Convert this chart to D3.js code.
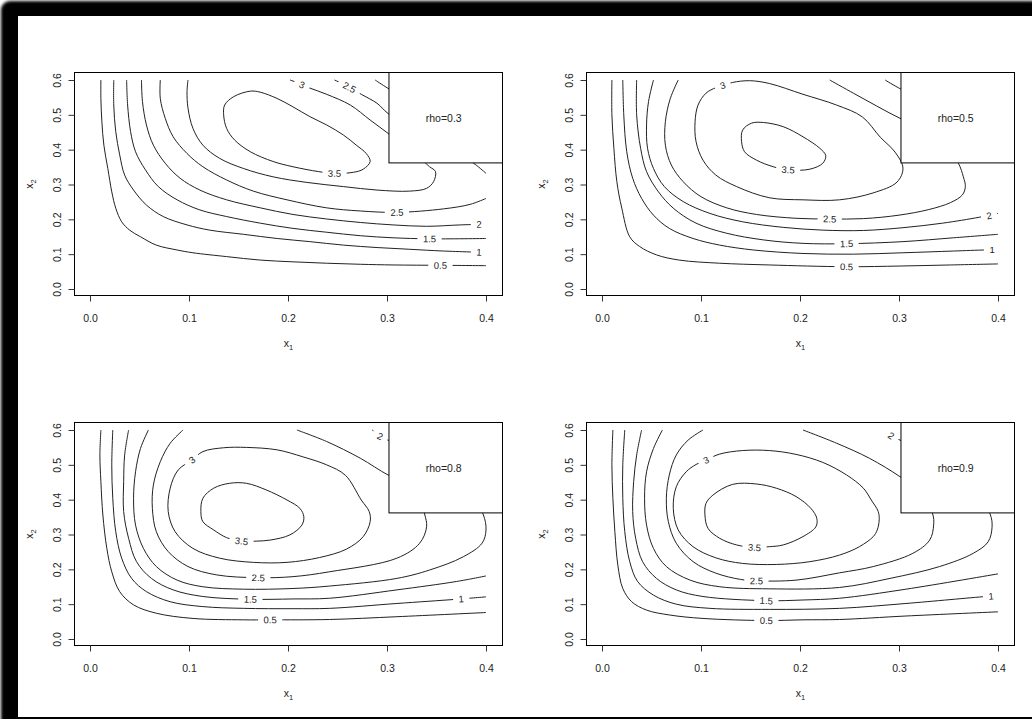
<!DOCTYPE html>
<html lang="en">
<head>
<meta charset="UTF-8">
<title>Contours of the density for four values of rho</title>
<script src="https://d3js.org/d3.v7.min.js"></script>
<style>
  html, body { margin: 0; padding: 0; background: #fff; }
  svg { display: block; font-family: "Liberation Sans", Arial, sans-serif; }
</style>
</head>
<body>
<svg id="chart" width="1032" height="719"></svg>
<script>
const rhoValues = [0.3, 0.5, 0.8, 0.9];
const xTicks = [0, 0.1, 0.2, 0.3, 0.4];
const yTicks = [0, 0.1, 0.2, 0.3, 0.4, 0.5, 0.6];
// lower left corner of the legend box, in data units
const legendCorner = [0.302, 0.362];

// contour lines (x1, x2); label = where R put the level text
const rho03 = [
  {level: 0.5, label: [0.354, 0.068], pts: [[0.011,0.600],[0.011,0.547],[0.012,0.480],[0.014,0.413],[0.018,0.346],[0.022,0.279],[0.026,0.232],[0.032,0.193],[0.040,0.169],[0.051,0.150],[0.067,0.126],[0.088,0.112],[0.104,0.104],[0.138,0.093],[0.172,0.083],[0.205,0.078],[0.239,0.074],[0.273,0.071],[0.306,0.069],[0.354,0.068],[0.400,0.067]]},
  {level: 1, label: [0.393, 0.106], pts: [[0.024,0.600],[0.024,0.528],[0.026,0.452],[0.030,0.385],[0.035,0.327],[0.044,0.284],[0.057,0.241],[0.074,0.208],[0.098,0.184],[0.121,0.169],[0.155,0.157],[0.189,0.145],[0.222,0.136],[0.256,0.126],[0.290,0.119],[0.323,0.114],[0.357,0.109],[0.400,0.105]]},
  {level: 1.5, label: [0.343, 0.144], pts: [[0.037,0.600],[0.038,0.528],[0.041,0.452],[0.046,0.394],[0.056,0.342],[0.069,0.294],[0.088,0.256],[0.111,0.227],[0.138,0.208],[0.172,0.189],[0.205,0.174],[0.239,0.163],[0.273,0.153],[0.306,0.147],[0.343,0.144],[0.400,0.145]]},
  {level: 2, label: [0.393, 0.186], pts: [[0.052,0.600],[0.053,0.538],[0.057,0.471],[0.064,0.413],[0.076,0.361],[0.091,0.318],[0.111,0.284],[0.138,0.256],[0.172,0.233],[0.205,0.214],[0.239,0.201],[0.273,0.191],[0.306,0.184],[0.340,0.180],[0.374,0.184],[0.400,0.186]]},
  {level: 2, pts: [[0.288,0.600],[0.301,0.576],[0.340,0.509],[0.400,0.433]]},
  {level: 2.5, label: [0.310, 0.220], pts: [[0.071,0.600],[0.071,0.547],[0.076,0.490],[0.084,0.437],[0.098,0.389],[0.114,0.351],[0.138,0.313],[0.165,0.281],[0.199,0.256],[0.239,0.233],[0.273,0.224],[0.310,0.220],[0.357,0.230],[0.384,0.243],[0.400,0.260]]},
  {level: 2.5, label: [0.262, 0.579], pts: [[0.247,0.600],[0.263,0.578],[0.274,0.559],[0.290,0.533],[0.301,0.504],[0.340,0.433],[0.374,0.385],[0.389,0.358],[0.400,0.332]]},
  {level: 3, label: [0.214, 0.586], pts: [[0.099,0.600],[0.098,0.567],[0.099,0.519],[0.104,0.461],[0.114,0.413],[0.131,0.375],[0.155,0.346],[0.185,0.322],[0.219,0.306],[0.256,0.294],[0.290,0.284],[0.323,0.281],[0.340,0.289],[0.347,0.308],[0.349,0.337],[0.343,0.351],[0.337,0.366],[0.320,0.404],[0.301,0.447],[0.283,0.485],[0.263,0.528],[0.239,0.559],[0.221,0.578],[0.205,0.597],[0.202,0.600]]},
  {level: 3.5, closed: true, label: [0.247, 0.332], pts: [[0.162,0.568],[0.145,0.552],[0.136,0.528],[0.135,0.500],[0.138,0.461],[0.146,0.428],[0.162,0.394],[0.185,0.366],[0.205,0.351],[0.231,0.337],[0.247,0.332],[0.266,0.335],[0.276,0.344],[0.283,0.366],[0.279,0.389],[0.269,0.413],[0.256,0.442],[0.239,0.471],[0.222,0.495],[0.205,0.523],[0.189,0.547],[0.172,0.565]]}
];

const rho05 = [
  {level: 0.5, label: [0.247, 0.064], pts: [[0.010,0.600],[0.010,0.500],[0.012,0.404],[0.015,0.308],[0.020,0.232],[0.028,0.150],[0.038,0.122],[0.055,0.098],[0.078,0.083],[0.119,0.074],[0.169,0.069],[0.247,0.064],[0.302,0.066],[0.352,0.069],[0.400,0.072]]},
  {level: 1, label: [0.394, 0.112], pts: [[0.021,0.600],[0.022,0.500],[0.025,0.394],[0.031,0.318],[0.040,0.260],[0.052,0.212],[0.068,0.174],[0.092,0.145],[0.119,0.126],[0.153,0.112],[0.203,0.102],[0.254,0.100],[0.304,0.104],[0.355,0.109],[0.387,0.112],[0.400,0.112]]},
  {level: 1.5, label: [0.247, 0.130], pts: [[0.035,0.600],[0.035,0.500],[0.039,0.404],[0.045,0.337],[0.057,0.279],[0.072,0.232],[0.095,0.189],[0.126,0.160],[0.163,0.141],[0.203,0.131],[0.247,0.130],[0.304,0.136],[0.355,0.147],[0.400,0.157]]},
  {level: 2, label: [0.391, 0.211], pts: [[0.052,0.600],[0.047,0.538],[0.045,0.471],[0.046,0.404],[0.052,0.346],[0.063,0.294],[0.082,0.251],[0.109,0.217],[0.142,0.193],[0.183,0.177],[0.223,0.169],[0.264,0.168],[0.304,0.176],[0.344,0.189],[0.381,0.206],[0.400,0.217]]},
  {level: 2, pts: [[0.286,0.600],[0.302,0.574],[0.340,0.530],[0.400,0.480]]},
  {level: 2.5, label: [0.230, 0.201], pts: [[0.077,0.600],[0.069,0.547],[0.064,0.480],[0.064,0.413],[0.070,0.356],[0.082,0.308],[0.100,0.265],[0.126,0.233],[0.156,0.214],[0.196,0.203],[0.230,0.201],[0.264,0.202],[0.300,0.212],[0.330,0.228],[0.352,0.248],[0.364,0.270],[0.367,0.294],[0.365,0.322],[0.360,0.361],[0.345,0.420],[0.325,0.460],[0.301,0.490],[0.277,0.526],[0.254,0.562],[0.230,0.600]]},
  {level: 3, closed: true, label: [0.122, 0.584], pts: [[0.122,0.584],[0.132,0.593],[0.149,0.598],[0.169,0.590],[0.203,0.559],[0.237,0.528],[0.263,0.494],[0.281,0.436],[0.296,0.393],[0.304,0.347],[0.298,0.307],[0.274,0.276],[0.240,0.256],[0.203,0.256],[0.169,0.262],[0.136,0.294],[0.115,0.327],[0.102,0.370],[0.095,0.423],[0.094,0.480],[0.097,0.528],[0.105,0.562],[0.115,0.578]]},
  {level: 3.5, closed: true, label: [0.188, 0.342], pts: [[0.142,0.456],[0.151,0.476],[0.163,0.478],[0.183,0.466],[0.203,0.437],[0.220,0.404],[0.226,0.383],[0.223,0.361],[0.210,0.344],[0.188,0.342],[0.173,0.351],[0.156,0.370],[0.144,0.394],[0.141,0.423]]}
];

const rho08 = [
  {level: 0.5, label: [0.182, 0.055], pts: [[0.011,0.600],[0.010,0.528],[0.011,0.452],[0.013,0.356],[0.017,0.260],[0.022,0.193],[0.030,0.136],[0.044,0.098],[0.067,0.074],[0.104,0.059],[0.155,0.055],[0.182,0.055],[0.242,0.056],[0.310,0.064],[0.400,0.076]]},
  {level: 1, label: [0.375, 0.115], pts: [[0.023,0.600],[0.022,0.500],[0.023,0.404],[0.026,0.308],[0.032,0.232],[0.042,0.174],[0.057,0.136],[0.081,0.107],[0.114,0.093],[0.155,0.088],[0.205,0.087],[0.242,0.088],[0.310,0.102],[0.370,0.114],[0.400,0.121]]},
  {level: 1.5, label: [0.162, 0.114], pts: [[0.039,0.600],[0.035,0.528],[0.034,0.452],[0.034,0.366],[0.039,0.289],[0.047,0.222],[0.062,0.174],[0.084,0.141],[0.114,0.122],[0.162,0.114],[0.205,0.115],[0.242,0.117],[0.310,0.141],[0.370,0.165],[0.400,0.181]]},
  {level: 2, label: [0.293, 0.582], pts: [[0.059,0.600],[0.051,0.547],[0.046,0.480],[0.044,0.404],[0.046,0.327],[0.054,0.260],[0.067,0.208],[0.088,0.169],[0.114,0.150],[0.155,0.143],[0.205,0.145],[0.242,0.152],[0.310,0.174],[0.343,0.198],[0.377,0.236],[0.396,0.275],[0.400,0.313],[0.397,0.359],[0.374,0.464],[0.340,0.528],[0.301,0.571],[0.285,0.600]]},
  {level: 2.5, label: [0.170, 0.176], pts: [[0.094,0.600],[0.081,0.562],[0.071,0.509],[0.064,0.442],[0.063,0.375],[0.067,0.308],[0.079,0.251],[0.099,0.208],[0.128,0.184],[0.170,0.176],[0.205,0.179],[0.242,0.193],[0.310,0.232],[0.333,0.275],[0.340,0.322],[0.338,0.359],[0.333,0.410],[0.320,0.448],[0.301,0.471],[0.273,0.519],[0.239,0.567],[0.209,0.600]]},
  {level: 3, closed: true, label: [0.103, 0.514], pts: [[0.103,0.514],[0.114,0.538],[0.135,0.549],[0.158,0.550],[0.189,0.543],[0.215,0.523],[0.239,0.500],[0.258,0.470],[0.274,0.399],[0.282,0.366],[0.283,0.337],[0.276,0.294],[0.259,0.258],[0.232,0.234],[0.199,0.220],[0.165,0.220],[0.131,0.232],[0.104,0.260],[0.086,0.308],[0.079,0.366],[0.081,0.433],[0.089,0.485]]},
  {level: 3.5, closed: true, label: [0.153, 0.281], pts: [[0.114,0.404],[0.125,0.433],[0.141,0.447],[0.158,0.447],[0.178,0.428],[0.199,0.399],[0.212,0.375],[0.216,0.351],[0.214,0.327],[0.202,0.299],[0.182,0.284],[0.168,0.281],[0.153,0.281],[0.138,0.291],[0.125,0.313],[0.114,0.337],[0.112,0.366]]}
];

const rho09 = [
  {level: 0.5, label: [0.166, 0.053], pts: [[0.011,0.600],[0.010,0.500],[0.011,0.404],[0.013,0.308],[0.016,0.212],[0.021,0.145],[0.030,0.107],[0.045,0.083],[0.068,0.069],[0.102,0.059],[0.166,0.053],[0.203,0.055],[0.240,0.056],[0.307,0.066],[0.400,0.078]]},
  {level: 1, label: [0.393, 0.123], pts: [[0.023,0.600],[0.021,0.500],[0.021,0.404],[0.023,0.308],[0.028,0.222],[0.036,0.165],[0.052,0.126],[0.075,0.100],[0.109,0.088],[0.169,0.085],[0.240,0.088],[0.307,0.102],[0.388,0.122],[0.400,0.124]]},
  {level: 1.5, label: [0.166, 0.110], pts: [[0.040,0.600],[0.035,0.528],[0.032,0.452],[0.031,0.366],[0.034,0.289],[0.041,0.222],[0.055,0.174],[0.075,0.141],[0.102,0.122],[0.166,0.110],[0.203,0.112],[0.240,0.117],[0.307,0.143],[0.400,0.187]]},
  {level: 2, label: [0.292, 0.584], pts: [[0.061,0.600],[0.052,0.547],[0.045,0.480],[0.043,0.404],[0.045,0.327],[0.052,0.260],[0.065,0.208],[0.089,0.169],[0.119,0.150],[0.169,0.144],[0.240,0.148],[0.291,0.174],[0.341,0.208],[0.375,0.246],[0.390,0.279],[0.394,0.321],[0.392,0.359],[0.371,0.452],[0.338,0.528],[0.301,0.571],[0.286,0.600]]},
  {level: 2.5, label: [0.156, 0.167], pts: [[0.102,0.600],[0.087,0.571],[0.075,0.528],[0.068,0.471],[0.065,0.404],[0.067,0.337],[0.075,0.275],[0.092,0.222],[0.115,0.189],[0.140,0.171],[0.156,0.167],[0.196,0.169],[0.240,0.190],[0.274,0.208],[0.314,0.246],[0.331,0.284],[0.335,0.327],[0.334,0.359],[0.321,0.423],[0.301,0.466],[0.270,0.519],[0.237,0.562],[0.203,0.600]]},
  {level: 3, closed: true, label: [0.105, 0.514], pts: [[0.105,0.514],[0.119,0.531],[0.142,0.541],[0.169,0.541],[0.196,0.530],[0.223,0.507],[0.247,0.471],[0.264,0.433],[0.272,0.399],[0.279,0.366],[0.280,0.342],[0.278,0.313],[0.274,0.294],[0.260,0.265],[0.240,0.241],[0.210,0.222],[0.176,0.214],[0.142,0.217],[0.115,0.233],[0.092,0.265],[0.077,0.313],[0.072,0.375],[0.075,0.437],[0.085,0.480],[0.095,0.501]]},
  {level: 3.5, closed: true, label: [0.154, 0.263], pts: [[0.105,0.389],[0.112,0.413],[0.132,0.444],[0.156,0.445],[0.176,0.433],[0.196,0.409],[0.211,0.375],[0.217,0.346],[0.216,0.322],[0.203,0.294],[0.183,0.270],[0.169,0.265],[0.154,0.263],[0.136,0.270],[0.119,0.289],[0.107,0.318],[0.104,0.356]]}
];

const panels = [rho03, rho05, rho08, rho09];

const svg = d3.select("#chart");

// dark window edge around the screenshot
const defs = svg.append("defs");
defs.append("filter").attr("id", "soft")
  .attr("x", "-5%").attr("y", "-5%").attr("width", "110%").attr("height", "110%")
  .append("feGaussianBlur").attr("stdDeviation", 1.6);
svg.append("rect").attr("x", 1).attr("y", 1).attr("width", 1040).attr("height", 730)
  .attr("rx", 9).attr("fill", "#000").attr("filter", "url(#soft)");
svg.append("rect").attr("x", 18).attr("y", 16).attr("width", 1014).attr("height", 701)
  .attr("fill", "#fff");

const ink = "#222";

panels.forEach((lines, i) => {
  const col = i % 2, row = Math.floor(i / 2);
  const left = 74.5 + col * 512, top = 72.5 + row * 350;
  const w = 428, h = 223;

  const x = d3.scaleLinear().domain([0, 0.4]).range([left + 15.5, left + 411.5]);
  const y = d3.scaleLinear().domain([0, 0.6]).range([top + 216.5, top + 7.5]);

  const g = svg.append("g");

  // contour lines
  lines.forEach(c => {
    const line = d3.line()
      .x(d => x(d[0])).y(d => y(d[1]))
      .curve(c.closed ? d3.curveCatmullRomClosed : d3.curveCatmullRom);
    g.append("path").attr("d", line(c.pts))
      .attr("fill", "none").attr("stroke", ink).attr("stroke-width", 1);
  });

  // level labels, turned along the line with a gap behind them
  lines.filter(c => c.label).forEach(c => {
    const px = x(c.label[0]), py = y(c.label[1]);
    let best = 0, bd = Infinity;
    c.pts.forEach((p, k) => {
      const d = (x(p[0]) - px) ** 2 + (y(p[1]) - py) ** 2;
      if (d < bd) { bd = d; best = k; }
    });
    const n = c.pts.length;
    const a = c.pts[c.closed ? (best - 1 + n) % n : Math.max(0, best - 1)];
    const b = c.pts[c.closed ? (best + 1) % n : Math.min(n - 1, best + 1)];
    let ang = Math.atan2(y(b[1]) - y(a[1]), x(b[0]) - x(a[0])) * 180 / Math.PI;
    if (ang > 90) ang -= 180;
    if (ang < -90) ang += 180;
    const lg = g.append("g").attr("transform", `translate(${px},${py}) rotate(${ang})`);
    const bg = lg.append("rect").attr("fill", "#fff");
    const t = lg.append("text")
      .attr("text-anchor", "middle").attr("dy", "0.36em")
      .attr("font-size", 9.5).attr("fill", ink)
      .text(String(c.level));
    const tw = t.node().getComputedTextLength();
    bg.attr("x", -tw / 2 - 5.5).attr("y", -4.5).attr("width", tw + 11).attr("height", 9);
  });

  // legend box
  const lx = x(legendCorner[0]), ly = y(legendCorner[1]);
  g.append("rect").attr("x", lx).attr("y", top)
    .attr("width", left + w - lx).attr("height", ly - top)
    .attr("fill", "#fff").attr("stroke", "#000").attr("stroke-width", 1);
  g.append("text")
    .attr("x", lx + (left + w - lx) / 2 - 2).attr("y", top + (ly - top) / 2 + 4)
    .attr("text-anchor", "middle").attr("font-size", 10.5).attr("fill", ink)
    .text("rho=" + rhoValues[i]);

  // plot box
  g.append("rect").attr("x", left).attr("y", top).attr("width", w).attr("height", h)
    .attr("fill", "none").attr("stroke", "#000").attr("stroke-width", 1);

  // axes
  const xa = g.append("g").attr("transform", `translate(0,${top + h})`)
    .call(d3.axisBottom(x).tickValues(xTicks).tickFormat(d3.format(".1f"))
      .tickSize(6).tickSizeOuter(0).tickPadding(13));
  xa.select(".domain").remove();
  xa.selectAll("text").attr("font-size", 10.5).attr("fill", ink)
    .attr("font-family", "Liberation Sans, Arial, sans-serif");
  xa.selectAll("line").attr("stroke", "#333");

  const ya = g.append("g").attr("transform", `translate(${left},0)`)
    .call(d3.axisLeft(y).tickValues(yTicks).tickFormat(d3.format(".1f"))
      .tickSize(6).tickSizeOuter(0));
  ya.select(".domain").remove();
  ya.selectAll("line").attr("stroke", "#333");
  ya.selectAll("text")
    .attr("transform", "rotate(-90)")
    .attr("text-anchor", "middle")
    .attr("x", 0).attr("y", -14).attr("dy", 0)
    .attr("font-size", 10.5).attr("fill", ink)
    .attr("font-family", "Liberation Sans, Arial, sans-serif");

  // axis titles
  const xt = g.append("text").attr("x", left + w / 2).attr("y", top + h + 51)
    .attr("text-anchor", "middle").attr("font-size", 10.5).attr("fill", ink);
  xt.append("tspan").text("x");
  xt.append("tspan").attr("dy", 3).attr("font-size", 7.5).text("1");

  const yt = g.append("text")
    .attr("transform", `translate(${left - 42},${top + h / 2}) rotate(-90)`)
    .attr("text-anchor", "middle").attr("font-size", 10.5).attr("fill", ink);
  yt.append("tspan").text("x");
  yt.append("tspan").attr("dy", 3).attr("font-size", 7.5).text("2");
});
</script>
</body>
</html>
